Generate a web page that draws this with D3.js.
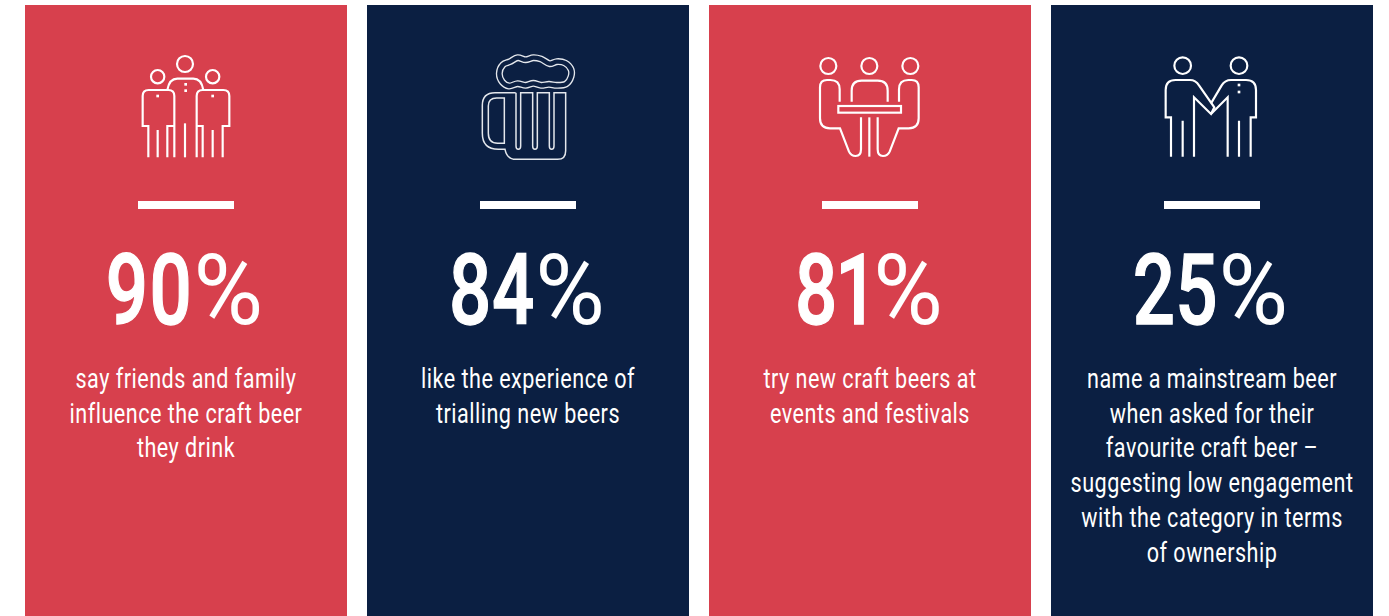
<!DOCTYPE html>
<html><head><meta charset="utf-8">
<script src="https://cdn.jsdelivr.net/npm/d3@7"></script>
<style>html,body{margin:0;background:#fff}svg{display:block}text{font-family:Roboto,sans-serif;fill:#fff;font-variant-numeric:proportional-nums}</style></head>
<body><svg id="c" width="1389" height="616"></svg>
<script>
const shares = [90, 84, 81, 25];
const captions = [
  ["say friends and family", "influence the craft beer", "they drink"],
  ["like the experience of", "trialling new beers"],
  ["try new craft beers at", "events and festivals"],
  ["name a mainstream beer", "when asked for their", "favourite craft beer \u2013", "suggesting low engagement", "with the category in terms", "of ownership"]
];
const panelColours = ["#d7404d", "#0b1f42", "#d7404d", "#0b1f42"];
const icons = ["friends", "mug", "table", "handshake"];

const svg = d3.select("#c");
const x = d3.scaleBand().domain(d3.range(shares.length)).range([25, 1373]).paddingInner(20 / 342).paddingOuter(0);

const smooth = d3.line().curve(d3.curveCatmullRomClosed.alpha(0.5));

// Line-art pictograms on a 390-unit grid; each entry also carries its offset from the panel centre
const glyphs = {
  friends: { dx: 66, draw(g) {
    [[195, 72, 24], [113, 110, 20], [278, 110, 20]].forEach(c => g.append("circle").attr("cx", c[0]).attr("cy", c[1]).attr("r", c[2]));
    g.append("path").attr("d", "M142 150Q148 116 172 116H220Q244 116 250 150");
    g.append("path").attr("d", "M85 352V258H68V168Q68 150 86 150H145Q163 150 163 168V352M142 352V258H163M113 352V270");
    g.append("path").attr("d", "M308 352V258H328V168Q328 150 310 150H248Q230 150 230 168V352M248 352V258H230M278 352V270");
    g.append("path").attr("d", "M195 352V250");
    [[113, 168], [197, 133], [197, 152], [278, 168]].forEach(p => g.append("rect").attr("x", p[0] - 4).attr("y", p[1] - 4).attr("width", 8).attr("height", 8).attr("fill", "#fff").attr("stroke", "none"));
  } },
  mug: { dx: 63, draw(g, colour) {
    const foam = [[103, 100], [114, 74], [135, 65], [158, 53], [182, 59], [205, 53], [228, 57], [254, 71], [275, 65], [300, 69], [318, 88], [318, 110], [303, 132], [275, 136], [252, 133], [228, 136], [205, 130], [182, 136], [158, 131], [132, 138], [112, 126]];
    g.append("path").attr("d", smooth(foam)).attr("stroke-width", 21).attr("stroke", "#e4e7ec");
    g.append("path").attr("d", smooth(foam)).attr("stroke-width", 13).attr("stroke", colour);
    g.append("path").attr("stroke", "#e4e7ec").attr("stroke-width", 4.5)
      .attr("d", "M152 158H90Q52 158 52 196V280Q52 328 100 328H120Q126 358 152 358H278Q302 358 302 332V158H267V318Q267 328 260 328Q253 328 253 318V158H217V318Q217 328 210 328Q203 328 203 318V158H167V318Q167 328 160 328Q153 328 153 318V158"
        + "M118 174H95Q70 174 70 198V280Q70 310 98 310H118Z");
  } },
  table: { dx: 65, draw(g) {
    [70, 193, 316].forEach(cx => g.append("circle").attr("cx", cx).attr("cy", 78).attr("r", 24));
    g.append("path").attr("d", "M140 185V152Q140 122 170 122H218Q248 122 248 152V185");
    g.append("rect").attr("x", 100).attr("y", 198).attr("width", 188).attr("height", 20);
    g.append("path").attr("d", "M104 185V148Q104 120 76 120H66Q45 120 45 142V235Q45 265 75 265H105L132 335Q138 348 152 348Q168 348 168 328V232");
    g.append("path").attr("d", "M282 185V148Q282 120 310 120H320Q341 120 341 142V235Q341 265 311 265H281L254 335Q248 348 234 348Q218 348 218 328V232");
    g.append("path").attr("d", "M193 350V232");
  } },
  handshake: { dx: 67, draw(g) {
    [113, 282].forEach(cx => g.append("circle").attr("cx", cx).attr("cy", 77).attr("r", 25));
    g.append("path").attr("d", "M78 350V232H62V150Q62 120 92 120H135Q152 120 162 136L208 202L198 222L147 172V350M113 350V242");
    g.append("path").attr("d", "M317 350V232H333V150Q333 120 303 120H258Q240 120 230 136L198 190M198 222L248 172V350M282 350V242");
    [135, 156].forEach(y => g.append("rect").attr("x", 278).attr("y", y - 4).attr("width", 8).attr("height", 8).attr("fill", "#fff").attr("stroke", "none"));
  } }
};

const panels = svg.selectAll("g.panel").data(shares).join("g").attr("class", "panel")
  .attr("transform", (d, i) => `translate(${x(i)},0)`);

panels.append("rect").attr("y", 5).attr("width", x.bandwidth()).attr("height", 611)
  .attr("fill", (d, i) => panelColours[i]);

const mid = x.bandwidth() / 2;

panels.append("g").each(function (d, i) {
  const glyph = glyphs[icons[i]];
  const g = d3.select(this)
    .attr("transform", `translate(${mid - glyph.dx},40) scale(${1 / 3})`)
    .attr("fill", "none").attr("stroke", "#fff").attr("stroke-width", 6.5);
  glyph.draw(g, panelColours[i]);
});

panels.append("rect").attr("x", mid - 48).attr("y", 201).attr("width", 96).attr("height", 8).attr("fill", "#fff");

// Big figure: heavy condensed digits followed by a lighter, wider percent sign
const digitScale = 0.76, percentScale = 0.97, gap = 1;
panels.each(function (d) {
  const p = d3.select(this);
  const num = p.append("text").attr("font-size", 98).attr("font-weight", 500)
    .attr("stroke", "#fff").attr("stroke-width", 1.3).text(d);
  const pct = p.append("text").attr("font-size", 98).attr("font-weight", 400).text("%");
  const a = num.node().getComputedTextLength() * digitScale;
  const b = pct.node().getComputedTextLength() * percentScale;
  const start = mid - 1.5 - (a + gap + b) / 2;
  num.attr("transform", `translate(${start},323.5) scale(${digitScale},1)`);
  pct.attr("transform", `translate(${start + a + gap},323.5) scale(${percentScale},1)`);
});

// Caption lines
const baseline = d3.scaleLinear().domain([0, 1]).range([388, 422.7]);
panels.each(function (d, i) {
  d3.select(this).selectAll("text.cap").data(captions[i]).join("text").attr("class", "cap")
    .attr("text-anchor", "middle").attr("font-size", 27).attr("font-weight", 400)
    .attr("letter-spacing", 0.6)
    .attr("transform", (t, k) => `translate(${mid},${baseline(k)}) scale(0.8,1)`)
    .text(t => t);
});
</script>
</body></html>
